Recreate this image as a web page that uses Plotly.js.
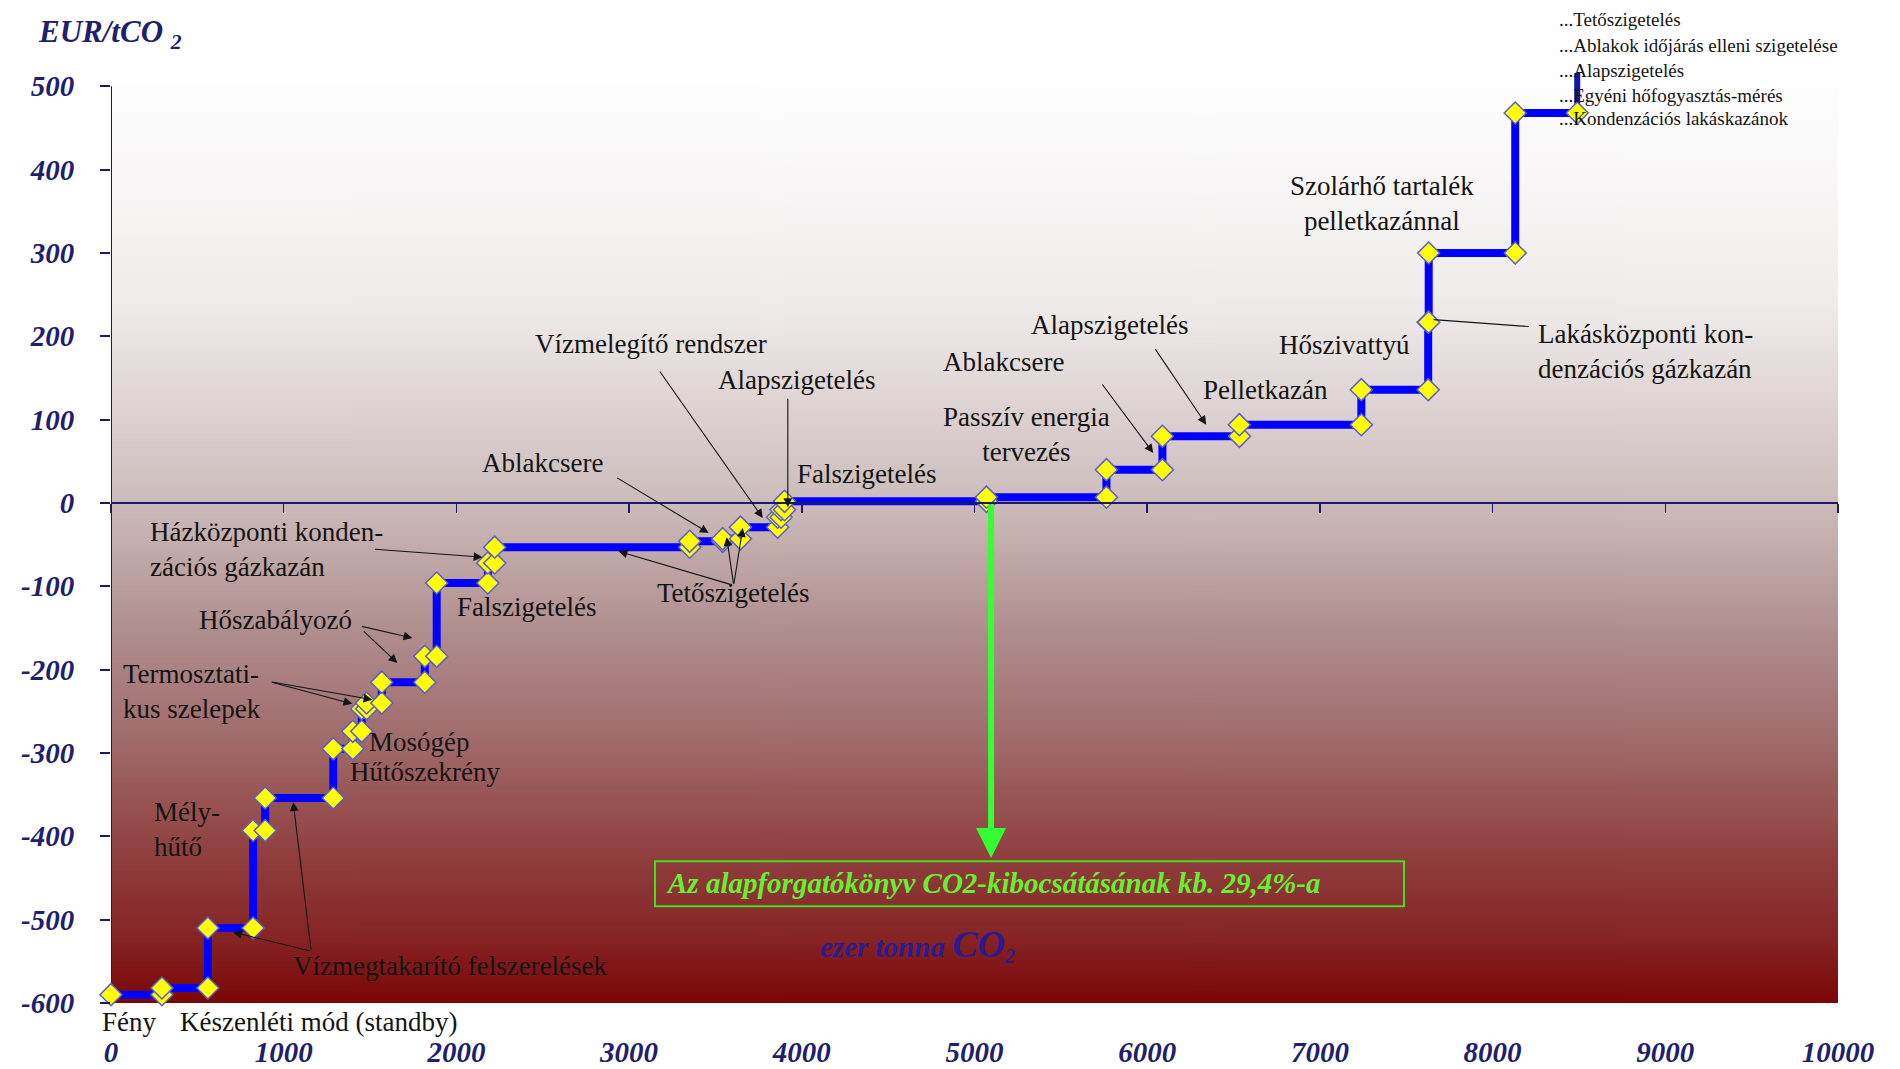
<!DOCTYPE html>
<html>
<head>
<meta charset="utf-8">
<script src="https://cdn.plot.ly/plotly-3.0.1.min.js"></script>
<style>
html,body{margin:0;padding:0;background:#ffffff;}
#chart{width:1900px;height:1069px;}
</style>
</head>
<body>
<div id="chart"></div>
<script>
// ---- DATA ----
// cumulative abatement (thousand t CO2) at the end of each measure
const segEnd  = [295, 561, 823, 893, 1287, 1400, 1452, 1480, 1568, 1817, 1886, 2182, 2222, 3351, 3542, 3645, 3860, 3880, 3900, 5069, 5764, 6088, 6534, 7240, 7627, 7630, 8131, 8490];
// specific cost of each measure (EUR/tCO2)
const segCost = [-590, -582, -510, -393, -354, -295, -274, -247, -240, -215, -184, -96, -72, -53, -46, -43, -29, -17, -8, 2, 7, 40, 80, 94, 136, 217, 300, 468];
// the following measures lie above the visible range (curve leaves the chart)
const offChartCost = 620;

const xTickVals = [0,1000,2000,3000,4000,5000,6000,7000,8000,9000,10000];
const xTickText = ['0','1000','2000','3000','4000','5000','6000','7000','8000','9000','10000'];
const yTickVals = [-600,-500,-400,-300,-200,-100,0,100,200,300,400,500];
const yTickText = ['-600','-500','-400','-300','-200','-100','0','100','200','300','400','500'];

// ---- build the step curve ----
const stepX = [], stepY = [];
let start = 0;
for (let i = 0; i < segEnd.length; i++) {
  stepX.push(start, segEnd[i]);
  stepY.push(segCost[i], segCost[i]);
  start = segEnd[i];
}
const lastX = segEnd[segEnd.length - 1];
const offX = [lastX, lastX];
const offY = [segCost[segCost.length - 1], offChartCost];

// ---- background gradient ----
const cv = document.createElement('canvas');
cv.width = 4; cv.height = 930;
const ctx = cv.getContext('2d');
const gr = ctx.createLinearGradient(0, 0, 0, 930);
gr.addColorStop(0.00, '#ffffff');
gr.addColorStop(0.25, '#efebeb');
gr.addColorStop(0.46, '#cdbcbc');
gr.addColorStop(0.60, '#b08e8e');
gr.addColorStop(0.72, '#a06a6a');
gr.addColorStop(0.84, '#903f3f');
gr.addColorStop(0.93, '#862424');
gr.addColorStop(1.00, '#7b0606');
ctx.fillStyle = gr;
ctx.fillRect(0, 0, 4, 930);
const bgImg = cv.toDataURL();

const SERIF = 'Liberation Serif, Times New Roman, serif';
const NAVY = '#1f1f6e';

function label(x, y, text, o) {
  o = o || {};
  return {x: x, y: y, xref: o.ref ? 'paper' : 'x', yref: o.ref ? 'paper' : 'y', text: text, showarrow: false,
    xanchor: o.xanchor || 'left', yanchor: 'middle', align: o.align || 'left',
    font: {family: SERIF, size: o.size || 27, color: o.color || '#141414',
           weight: o.weight || 'normal', style: o.style || 'normal'}};
}
function arrow(x, y, ax, ay, o) {
  o = o || {};
  return {x: x, y: y, xref: 'x', yref: 'y', ax: ax, ay: ay, text: '', showarrow: true,
    arrowhead: o.head === undefined ? 2 : o.head, arrowsize: o.size || 1.6,
    arrowwidth: o.width || 1.1, arrowcolor: o.color || '#141414', standoff: 0, startstandoff: 0};
}

const annotations = [
  label(-0.0434, 1.042, 'EUR/tCO <sub>2</sub>', {ref: 1, size: 31, color: NAVY, weight: 'bold', style: 'italic'}),
  label(214, -56, 'Házközponti konden-<br>zációs gázkazán'),
  label(499, -140, 'Hőszabályozó'),
  label(58, -226, 'Termosztati-<br>kus szelepek'),
  label(1484, -287, 'Mosógép'),
  label(1374, -323, 'Hűtőszekrény'),
  label(238, -392, 'Mély-<br>hűtő'),
  label(1043, -556, 'Vízmegtakarító felszerelések'),
  label(-0.0064, -0.0204, 'Fény', {ref: 1}),
  label(0.0388, -0.0204, 'Készenléti mód (standby)', {ref: 1}),
  label(1994, -125, 'Falszigetelés'),
  label(2139, 48, 'Ablakcsere'),
  label(2446, 191, 'Vízmelegítő rendszer'),
  label(3501, 148, 'Alapszigetelés'),
  label(3959, 35, 'Falszigetelés'),
  label(3148, -108, 'Tetőszigetelés'),
  label(4806, 169, 'Ablakcsere'),
  label(5299, 82, 'Passzív energia<br>tervezés', {xanchor: 'center', align: 'center'}),
  label(5316, 214, 'Alapszigetelés'),
  label(6313, 136, 'Pelletkazán'),
  label(6754, 190, 'Hőszivattyú'),
  label(7357, 360, 'Szolárhő tartalék<br>pelletkazánnal', {xanchor: 'center', align: 'center'}),
  label(8249, 182, 'Lakásközponti kon-<br>denzációs gázkazán'),
  label(0.8373, 1.058, '...Tetőszigetelés', {ref: 1, size: 19}),
  label(0.8373, 1.030, '...Ablakok időjárás elleni szigetelése', {ref: 1, size: 19}),
  label(0.8373, 1.003, '...Alapszigetelés', {ref: 1, size: 19}),
  label(0.8373, 0.976, '...Egyéni hőfogyasztás-mérés', {ref: 1, size: 19}),
  label(0.8373, 0.951, '...Kondenzációs lakáskazánok', {ref: 1, size: 19}),
  label(3200, -456, 'Az alapforgatókönyv CO2-kibocsátásának kb. 29,4%-a', {size: 29, color: '#66f033', weight: 'bold', style: 'italic'}),
  label(4672, -530, 'ezer tonna <span style="font-size:38px">CO</span><sub>2</sub>', {xanchor: 'center', size: 29, color: '#2b1b8f', weight: 'bold', style: 'italic'}),
  // arrows
  arrow(2151, -65, -109, -8),
  arrow(1745, -162, -52, -12),
  arrow(1658, -192, -35, -33),
  arrow(1397, -241, -82, -22),
  arrow(1513, -236, -102, -18),
  arrow(1055, -359, 18, 149),
  arrow(707, -515, 78, 19),
  arrow(3461, -36, -93, -56),
  arrow(3774, -18, -104, -148),
  arrow(3919, -5, 0, -110),
  arrow(2939, -58, 115, 34),
  arrow(3565, -41, 7, 48),
  arrow(3658, -30, -9, 57),
  arrow(6035, 60, -52, -70),
  arrow(6342, 94, -52, -77),
  arrow(7658, 220, 97, 7, {head: 0}),
  arrow(5096, -426, 0, -355, {color: '#33ff33', width: 6, size: 1})
];

const traces = [
  {x: offX, y: offY, type: 'scatter', mode: 'lines', hoverinfo: 'skip',
   line: {color: '#1414a8', width: 6}, showlegend: false},
  {x: stepX, y: stepY, type: 'scatter', mode: 'lines+markers', hoverinfo: 'skip',
   line: {color: '#0000ff', width: 8},
   marker: {symbol: 'diamond', size: 17, color: '#ffff00', line: {color: '#5b5bd6', width: 1.5}},
   cliponaxis: false, showlegend: false},
  {x: [0], y: [0], xaxis: 'x2', yaxis: 'y', type: 'scatter', mode: 'markers', opacity: 0,
   marker: {size: 1}, showlegend: false, hoverinfo: 'skip'}
];

const tickFont = {family: SERIF, size: 29, color: NAVY, weight: 'bold', style: 'italic'};

const layout = {
  width: 1900, height: 1069,
  margin: {l: 111, r: 62, t: 73, b: 66, pad: 0},
  paper_bgcolor: '#ffffff',
  plot_bgcolor: 'rgba(0,0,0,0)',
  showlegend: false,
  xaxis: {range: [0, 10000], showline: false, zeroline: false, showgrid: false,
          tickvals: xTickVals, ticktext: xTickText, ticks: 'outside', ticklen: 23,
          tickcolor: 'rgba(0,0,0,0)', tickfont: tickFont, fixedrange: true},
  xaxis2: {range: [0, 10000], overlaying: 'x', anchor: 'free', position: 600 / 1116, side: 'bottom',
           showline: true, linecolor: '#1a1a6b', linewidth: 2, ticks: 'outside', ticklen: 9,
           tickwidth: 1.5, tickcolor: '#1a1a6b', tickvals: xTickVals, showticklabels: false,
           showgrid: false, zeroline: false, fixedrange: true},
  yaxis: {range: [-600, 516], showline: false, zeroline: false, showgrid: false,
          tickvals: yTickVals, ticktext: yTickText, ticks: 'outside', ticklen: 10, tickwidth: 2,
          tickcolor: '#1a1a6b', tickfont: tickFont, ticklabelstandoff: 20, fixedrange: true},
  images: [{source: bgImg, xref: 'paper', yref: 'paper', x: 0, y: 1, sizex: 1, sizey: 1,
            xanchor: 'left', yanchor: 'top', sizing: 'stretch', layer: 'below'}],
  shapes: [
    {type: 'line', xref: 'x', yref: 'y', x0: 0, x1: 0, y0: -600, y1: 500, layer: 'below',
     line: {color: '#1a1a6b', width: 2}},
    {type: 'rect', xref: 'x', yref: 'y', x0: 3150, x1: 7487, y0: -484, y1: -430, layer: 'above',
     line: {color: '#44e020', width: 2}, fillcolor: 'rgba(0,0,0,0)'}
  ],
  annotations: annotations
};

Plotly.newPlot('chart', traces, layout, {displayModeBar: false, staticPlot: true});
</script>
</body>
</html>
